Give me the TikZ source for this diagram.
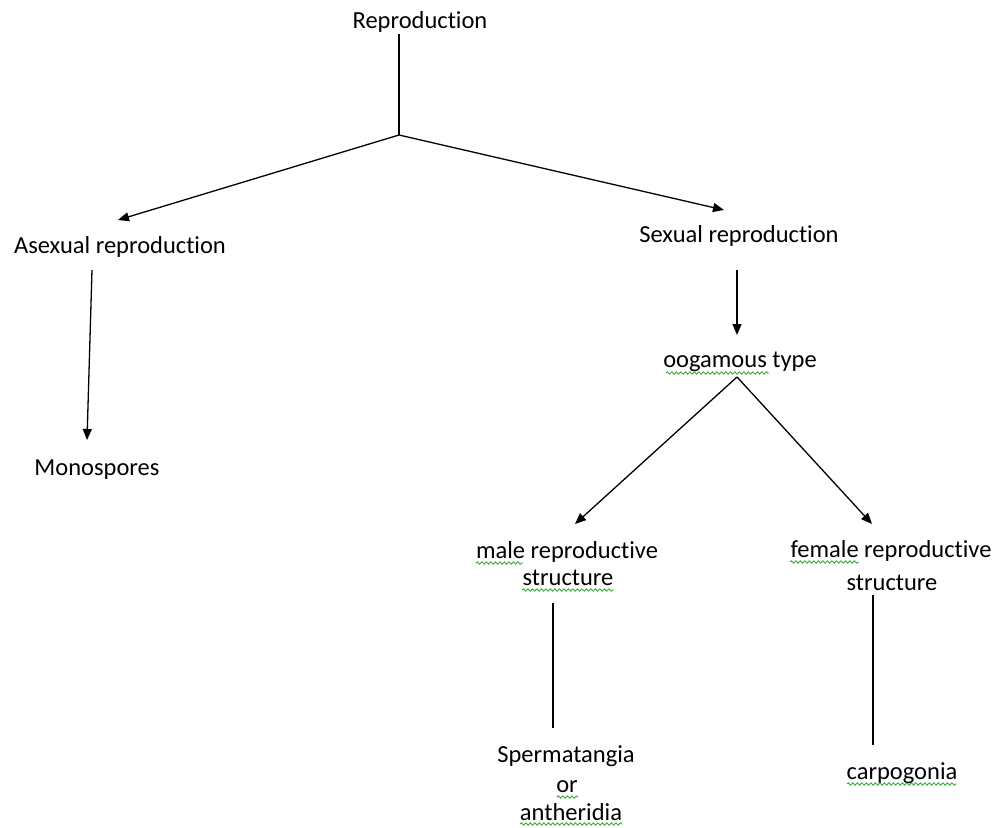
\documentclass[tikz,border=0pt]{standalone}
\usepackage{fontspec}
\setmainfont[Ligatures=NoCommon]{Carlito}
\usetikzlibrary{arrows.meta,decorations.pathmorphing}
\begin{document}
\begin{tikzpicture}[x=1pt,y=-1pt,
  font=\fontsize{24.5}{29}\selectfont,
  lbl/.style={inner sep=0pt, anchor=base},
  arr/.style={line width=1.3pt, -{Triangle[length=11pt,width=9pt]}},
  ln/.style={line width=1.3pt},
  sq/.style={draw={rgb,255:red,60;green,170;blue,60}, line width=0.9pt, decorate, decoration={snake, amplitude=1.2pt, segment length=4.5pt}}]
\useasboundingbox (0,0) rectangle (995,827);
\fill[white] (0,0) rectangle (995,827);
% nodes (base anchored)
\node[lbl] (rep) at (420,28) {Reproduction};
\node[lbl] (asex) at (120,253) {Asexual reproduction};
\node[lbl] (sex) at (739,242) {Sexual reproduction};
\node[lbl] (mono) at (97,475) {Monospores};
\node[lbl] (oog) at (740,367) {oogamous type};
\node[lbl] (male1) at (567,558) {male reproductive};
\node[lbl] (male2) at (568,585) {structure};
\node[lbl] (fem1) at (891,557) {female reproductive};
\node[lbl] (fem2) at (892,590) {structure};
\node[lbl] (sp1) at (566,762) {Spermatangia};
\node[lbl] (sp2) at (567,792) {or};
\node[lbl] (sp3) at (571,820) {antheridia};
\node[lbl] (carp) at (902,779) {carpogonia};
% connector points
\coordinate (r0) at (399,34);
\coordinate (j1) at (399,135);
\coordinate (at) at (118,220);
\coordinate (st) at (724,210);
\coordinate (a0) at (92,270);
\coordinate (m0) at (87,440);
\coordinate (s0) at (737,270);
\coordinate (o0) at (737,335);
\coordinate (j2) at (737,377);
\coordinate (mt) at (575,524);
\coordinate (ft) at (872,524);
\coordinate (ml0) at (553,603);
\coordinate (ml1) at (553,728);
\coordinate (fl0) at (873,595);
\coordinate (fl1) at (873,745);
% connectors
\draw[ln] (r0) -- (j1);
\draw[arr] (j1) -- (at);
\draw[arr] (j1) -- (st);
\draw[arr] (a0) -- (m0);
\draw[arr] (s0) -- (o0);
\draw[arr] (j2) -- (mt);
\draw[arr] (j2) -- (ft);
\draw[ln] (ml0) -- (ml1);
\draw[ln] (fl0) -- (fl1);
% spell-check squiggles
\draw[sq] (666,373) -- (769,373);
\draw[sq] (476,563) -- (523,563);
\draw[sq] (522,590) -- (614,590);
\draw[sq] (790,562) -- (859,562);
\draw[sq] (557,797) -- (578,797);
\draw[sq] (520,824) -- (622,824);
\draw[sq] (847,784) -- (957,784);
\end{tikzpicture}
\end{document}
